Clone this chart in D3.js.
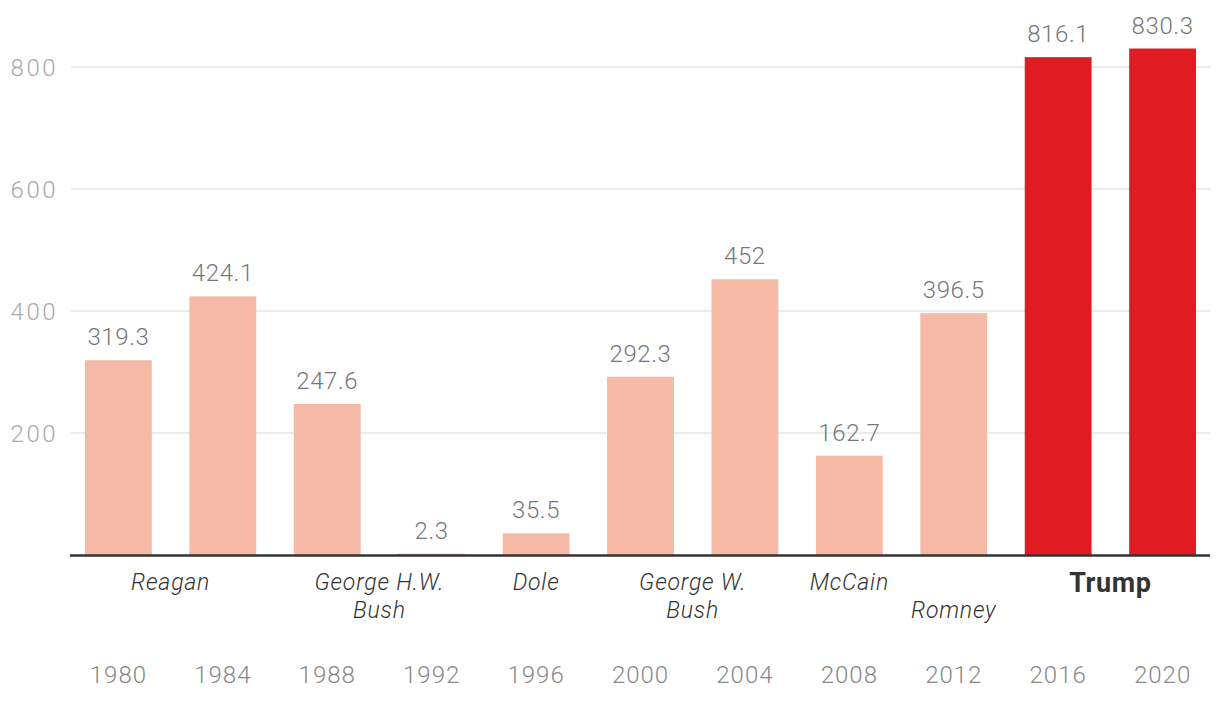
<!DOCTYPE html>
<html><head><meta charset="utf-8">
<script src="https://cdn.jsdelivr.net/npm/d3@7"></script>
<style>body{margin:0;background:#fff}svg{display:block}</style>
</head><body><svg id="c" width="1220" height="704"></svg>
<script>
const years = ["1980","1984","1988","1992","1996","2000","2004","2008","2012","2016","2020"];
const values = [319.3,424.1,247.6,2.3,35.5,292.3,452,162.7,396.5,816.1,830.3];
const highlight = [false,false,false,false,false,false,false,false,false,true,true];
const yTicks = [200,400,600,800];
const candidates = [
  {lines:["Reagan"], span:["1980","1984"], row:0, bold:false},
  {lines:["George H.W.","Bush"], span:["1988","1992"], row:0, bold:false},
  {lines:["Dole"], span:["1996"], row:0, bold:false},
  {lines:["George W.","Bush"], span:["2000","2004"], row:0, bold:false},
  {lines:["McCain"], span:["2008"], row:0, bold:false},
  {lines:["Romney"], span:["2012"], row:1, bold:false},
  {lines:["Trump"], span:["2016","2020"], row:0, bold:true}
];

const svg = d3.select("#c");
const font = "Roboto, 'Liberation Sans', sans-serif";
const x = d3.scaleBand().domain(years).range([66.2, 1214.8]).paddingInner(0.36).paddingOuter(0.18);
const y = d3.scaleLinear().domain([0, 800]).range([555, 67]);

svg.append("g").selectAll("line").data(yTicks).join("line")
  .attr("x1", 71).attr("x2", 1210)
  .attr("y1", d => y(d)).attr("y2", d => y(d))
  .attr("stroke", "#e4e4e4").attr("stroke-width", 1.5);
svg.append("g").selectAll("text").data(yTicks).join("text")
  .attr("x", 58).attr("y", d => y(d) + 8.5)
  .attr("text-anchor", "end").attr("fill", "#aaaaaa")
  .attr("font-family", font).attr("font-size", 24).attr("font-weight", 300)
  .attr("letter-spacing", 2.5).text(d => d);

svg.append("g").selectAll("rect").data(years).join("rect")
  .attr("x", d => x(d)).attr("width", x.bandwidth())
  .attr("y", (d,i) => y(values[i])).attr("height", (d,i) => y(0) - y(values[i]))
  .attr("fill", (d,i) => highlight[i] ? "#e01b22" : "#f5b9a5");

svg.append("g").selectAll("text").data(years).join("text")
  .attr("x", d => x(d) + x.bandwidth()/2)
  .attr("y", (d,i) => y(values[i]) - 15)
  .attr("text-anchor", "middle").attr("fill", "#777")
  .attr("font-family", font).attr("font-size", 24).attr("font-weight", 300)
  .attr("letter-spacing", 0.6)
  .text((d,i) => values[i]);

svg.append("line").attr("x1", 70).attr("x2", 1210).attr("y1", y(0)+0.5).attr("y2", y(0)+0.5)
  .attr("stroke", "#333").attr("stroke-width", 2.5);

const cg = svg.append("g");
candidates.forEach(c => {
  const cx = d3.mean(c.span, s => x(s) + x.bandwidth()/2);
  const t = cg.append("text").attr("text-anchor", "middle")
    .attr("font-family", font).attr("fill", "#333")
    .attr("font-size", c.bold ? 27 : 23)
    .attr("font-style", c.bold ? "normal" : "italic")
    .attr("font-weight", c.bold ? "bold" : 300)
    .attr("letter-spacing", c.bold ? 0.6 : 0.8);
  c.lines.forEach((l, i) => {
    t.append("tspan").attr("x", cx).attr("y", (c.bold ? 592 : 590) + (c.row + i) * 28).text(l);
  });
});

svg.append("g").selectAll("text").data(years).join("text")
  .attr("x", d => x(d) + x.bandwidth()/2).attr("y", 683)
  .attr("text-anchor", "middle").attr("fill", "#888")
  .attr("font-family", font).attr("font-size", 24).attr("font-weight", 300)
  .attr("letter-spacing", 1).text(d => d);
</script></body></html>
